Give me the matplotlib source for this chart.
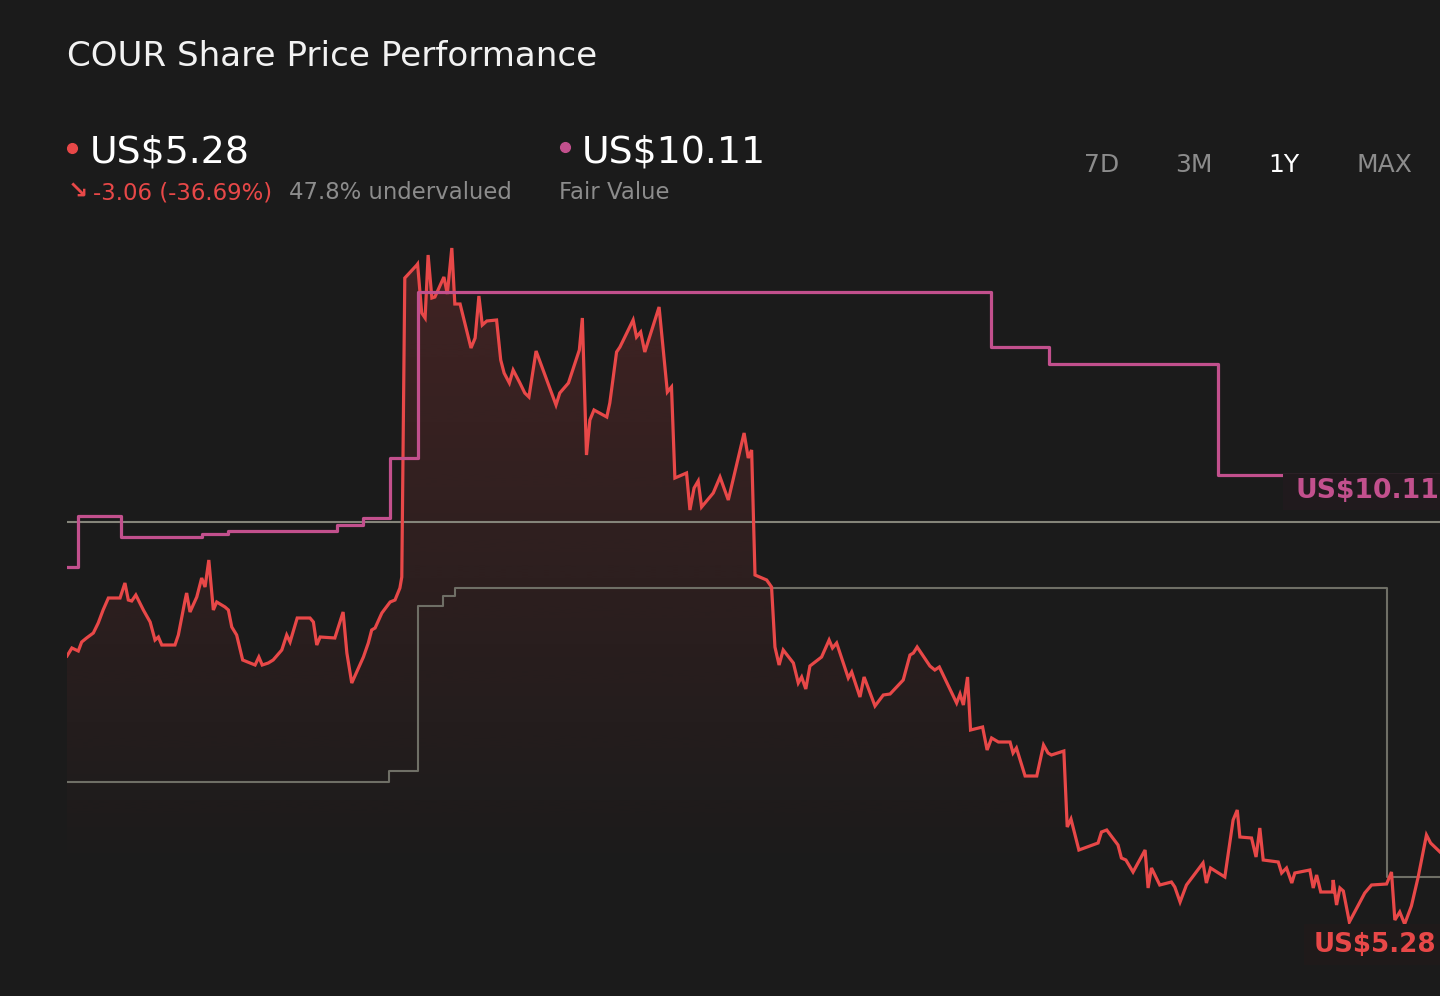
import numpy as np
import matplotlib
matplotlib.use("Agg")
import matplotlib.pyplot as plt
from matplotlib.path import Path
from matplotlib.lines import Line2D
from matplotlib.patches import Rectangle

# ---------------- data ----------------
price_days = [0, 1.3, 3.0, 3.9, 5.2, 7.0, 8.3, 9.6, 11.0, 14.1, 15.4, 16.3, 17.2, 18.3, 20.3, 22.1,
              23.4, 24.3, 25.2, 28.7, 29.6, 31.4, 31.8, 32.7, 34.5, 35.8, 36.7, 37.7, 38.9, 39.8,
              42.0, 42.9, 43.8, 45.1, 46.7, 50.0, 51.0, 51.9, 53.5, 54.8, 57.1, 58.4, 59.3, 61.2,
              64.6, 65.5, 66.4, 67.3, 71.2, 73.4, 74.4, 75.7, 78.8, 80.1, 81.0, 81.9, 83.7, 85.9,
              87.2, 88.5, 89.0, 89.8, 93.0, 93.2, 94.3, 95.2, 96.0, 97.0, 97.8, 100.2, 101.1, 102.3,
              103.1, 104.5, 107.4, 108.5, 109.5, 110.4, 111.6, 114.2, 115.3, 116.2, 117.6, 118.6,
              120.4, 121.7, 122.8, 124.7, 130.0, 131.0, 133.3, 136.2, 137.0, 138.1, 139.0, 140.1,
              143.5, 144.3, 146.1, 147.0, 150.5, 151.4, 152.5, 153.6, 157.4, 159.6, 160.7, 161.6,
              164.7, 165.6, 166.7, 167.8, 168.7, 171.8, 173.6, 175.8, 180.0, 181.1, 182.0, 182.9,
              186.0, 187.3, 188.2, 189.3, 190.4, 193.1, 194.4, 195.3, 196.4, 197.5, 200.6, 202.6,
              203.5, 204.6, 207.7, 208.6, 210.8, 211.9, 214.8, 217.0, 218.8, 222.3, 224.1, 225.0,
              226.0, 229.4, 230.7, 231.9, 236.5, 237.4, 238.3, 239.4, 240.2, 243.4, 244.6, 245.8,
              247.6, 250.7, 251.5, 252.4, 254.7, 257.8, 259.6, 260.8, 261.7, 265.0, 265.9, 266.9,
              269.0, 274.1, 275.0, 276.4, 279.4, 280.3, 281.5, 283.4, 286.6, 287.4, 288.3, 290.5,
              293.6, 294.5, 295.9, 297.6, 302.0, 302.9, 304.0, 307.8, 310.0, 311.1, 311.8, 314.9,
              316.1, 317.1, 318.0, 322.0, 322.9, 324.2, 325.6, 326.4, 330.4, 331.3, 332.2, 333.3,
              336.4, 336.6, 337.5, 338.4, 339.3, 340.9, 345.0, 346.8, 350.8, 352.1, 353.0, 354.3,
              355.6, 357.4, 359.2, 361.4, 362.5, 365.0]
price_values = [8.30, 8.38, 8.35, 8.44, 8.48, 8.53, 8.63, 8.76, 8.88, 8.88, 9.03, 8.86, 8.85, 8.91, 8.76, 8.64,
                8.46, 8.49, 8.41, 8.41, 8.51, 8.86, 8.93, 8.74, 8.89, 9.08, 8.99, 9.26, 8.76, 8.84,
                8.79, 8.76, 8.59, 8.51, 8.26, 8.21, 8.29, 8.21, 8.23, 8.26, 8.36, 8.51, 8.44, 8.68,
                8.68, 8.64, 8.41, 8.49, 8.48, 8.74, 8.33, 8.03, 8.29, 8.43, 8.56, 8.58, 8.73, 8.84,
                8.86, 8.98, 9.09, 12.08, 12.21, 12.22, 11.73, 11.68, 12.31, 11.88, 11.89, 12.09, 11.92, 12.38,
                11.82, 11.82, 11.38, 11.48, 11.90, 11.61, 11.65, 11.66, 11.26, 11.13, 11.03, 11.16,
                11.03, 10.93, 10.89, 11.35, 10.81, 10.93, 11.03, 11.36, 11.68, 10.31, 10.66, 10.76,
                10.69, 10.83, 11.34, 11.39, 11.66, 11.49, 11.54, 11.34, 11.79, 10.94, 10.99, 10.08,
                10.13, 9.76, 9.98, 10.05, 9.79, 9.93, 10.09, 9.86, 10.53, 10.28, 10.36, 9.11,
                9.06, 8.99, 8.39, 8.21, 8.36, 8.23, 8.03, 8.09, 7.97, 8.20, 8.29, 8.46,
                8.38, 8.43, 8.08, 8.14, 7.89, 8.09, 7.80, 7.91, 7.92, 8.06, 8.31, 8.33,
                8.39, 8.20, 8.16, 8.19, 7.83, 7.92, 7.81, 8.09, 7.56, 7.59, 7.36, 7.48,
                7.44, 7.44, 7.33, 7.38, 7.10, 7.10, 7.41, 7.33, 7.31, 7.35, 6.59, 6.67,
                6.36, 6.43, 6.54, 6.56, 6.41, 6.28, 6.26, 6.14, 6.36, 5.98, 6.18, 6.01,
                6.04, 5.99, 5.84, 6.01, 6.23, 6.03, 6.18, 6.09, 6.66, 6.76, 6.49, 6.48,
                6.29, 6.58, 6.26, 6.24, 6.13, 6.18, 6.03, 6.13, 6.16, 5.98, 6.11, 5.94,
                5.94, 6.06, 5.81, 5.98, 5.95, 5.64, 5.93, 6.01, 6.02, 6.14, 5.66, 5.74,
                5.62, 5.80, 6.09, 6.51, 6.43, 6.34]

fv_days = [0, 3.0, 14.4, 35.8, 42.9, 71.7, 78.8, 85.9, 93.2, 245.6, 261.0, 306.0, 365]
fv_values = [9.19, 9.70, 9.49, 9.52, 9.55, 9.61, 9.68, 10.28, 11.94, 11.39, 11.22, 10.11, 10.11]

ref_days = [0, 85.7, 93.2, 99.9, 103.1, 350.8, 365]
ref_values = [7.04, 7.15, 8.80, 8.90, 8.98, 6.09, 6.09]

hline_value = 9.64
fill_base = 6.06

title = "COUR Share Price Performance"
price_label = "US$5.28"
fv_label = "US$10.11"
change_label = "-3.06 (-36.69%)"
undervalued_label = "47.8% undervalued"
fv_caption = "Fair Value"
periods = ["7D", "3M", "1Y", "MAX"]
active_period = "1Y"

# ---------------- style ----------------
BG = "#1b1b1b"
RED = "#e84848"
PINK = "#c2508d"
GRAY_TXT = "#8c8c8c"
W, H = 1440, 996

fig = plt.figure(figsize=(W / 100, H / 100), dpi=100, facecolor=BG)

def fx(px):
    return px / W

def fy(py):
    return 1 - py / H

ax = fig.add_axes([fx(67), 0, 1 - fx(67), 1])
ax.set_facecolor(BG)
ax.set_xlim(0, 365)
ax.set_ylim(4.90, 14.86)
ax.axis("off")

pd_ = np.array(price_days)
pv = np.array(price_values)

# gradient fill under price line
poly = ax.fill_between(pd_, pv, fill_base, where=pv >= fill_base, interpolate=True,
                       facecolor="none", edgecolor="none")
clip = Path.make_compound_path(*poly.get_paths())
top = 12.4
n = 256
alpha = np.linspace(0.19, 0.0, n)[:, None]
img = np.zeros((n, 1, 4))
img[..., 0] = 232 / 255
img[..., 1] = 72 / 255
img[..., 2] = 72 / 255
img[..., 3] = alpha
im = ax.imshow(img, extent=[0, 365, fill_base, top], aspect="auto", origin="upper",
               interpolation="bilinear", zorder=1)
im.set_clip_path(clip, transform=ax.transData)

ax.axhline(hline_value, color="#85857a", lw=1.5, zorder=2)
ax.step(ref_days, ref_values, where="post", color="#6f6f66", lw=1.5, zorder=2)
ax.plot(pd_, pv, color=RED, lw=2.3, zorder=3, solid_joinstyle="miter")
ax.step(fv_days, fv_values, where="post", color=PINK, lw=2.3, zorder=4)

# right-side value labels
fig.add_artist(Rectangle((fx(1283), fy(510)), 1 - fx(1283), 36 / H, transform=fig.transFigure,
                         facecolor="#201a1d", edgecolor="none", zorder=10))
fig.text(fx(1296), fy(498), fv_label, color=PINK, fontsize=19.2, fontweight="bold",
         va="baseline", ha="left", zorder=11)
fig.add_artist(Rectangle((fx(1304), fy(965)), 1 - fx(1304), 41 / H, transform=fig.transFigure,
                         facecolor="#1f1a1a", edgecolor="none", zorder=10))
fig.text(fx(1314), fy(952), price_label, color=RED, fontsize=18.8, fontweight="bold",
         va="baseline", ha="left", zorder=11)

# header texts
fig.text(fx(67), fy(66), title, color="#f2f2f2", fontsize=24.6, va="baseline", ha="left")

fig.add_artist(Line2D([fx(72)], [fy(148)], marker="o", markersize=7, color=RED,
                      transform=fig.transFigure, linestyle="none"))
fig.text(fx(90), fy(162), price_label, color="white", fontsize=27.3, va="baseline", ha="left")
fig.text(fx(68), fy(199), "↘", color=RED, fontsize=17.5, va="baseline", ha="left", fontweight="bold")
fig.text(fx(93), fy(199), change_label, color=RED, fontsize=16.4, va="baseline", ha="left")
fig.text(fx(289), fy(199), undervalued_label, color=GRAY_TXT, fontsize=16.4, va="baseline", ha="left")

fig.add_artist(Line2D([fx(565)], [fy(147)], marker="o", markersize=7, color=PINK,
                      transform=fig.transFigure, linestyle="none"))
fig.text(fx(582), fy(162), fv_label, color="white", fontsize=27.3, va="baseline", ha="left")
fig.text(fx(559), fy(199), fv_caption, color=GRAY_TXT, fontsize=16.4, va="baseline", ha="left")

for label, cx in zip(periods, [1102, 1194, 1284, 1384]):
    fig.text(fx(cx), fy(172), label, color="white" if label == active_period else GRAY_TXT,
             fontsize=18, va="baseline", ha="center")

fig.savefig("out.png", dpi=100, facecolor=BG)
